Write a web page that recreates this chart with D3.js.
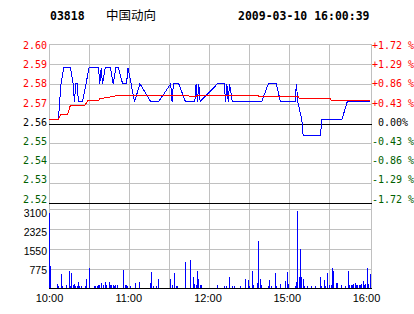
<!DOCTYPE html>
<html><head><meta charset="utf-8">
<script src="https://cdn.jsdelivr.net/npm/d3@7"></script>
<style>
html,body{margin:0;padding:0;background:#fff;}
svg{display:block;}
</style></head>
<body>
<svg id="c" width="414" height="314"></svg>
<script>
// ---------- data ----------
const stockCode = "03818";
const stockName = "中国动向";
const stamp = "2009-03-10 16:00:39";
const prevClose = 2.56;
const priceTicks = [2.60, 2.59, 2.58, 2.57, 2.56, 2.55, 2.54, 2.53, 2.52];
const pctTicks = ["+1.72 %", "+1.29 %", "+0.86 %", "+0.43 %", "0.00%", "-0.43 %", "-0.86 %", "-1.29 %", "-1.72 %"];
const volTicks = [3100, 2325, 1550, 775];
const timeLabels = ["10:00", "11:00", "12:00", "15:00", "16:00"];
const gridTimes = ["10:30", "11:00", "11:30", "12:00", "12:30", "15:00", "15:30"];

const priceTimes = ["10:00","10:07","10:08","10:09","10:11","10:16","10:18","10:19","10:20","10:21","10:22","10:25","10:30","10:37","10:38","10:39","10:40","10:42","10:46","10:48","10:50","10:52","10:55","10:58","10:59","11:04","11:08","11:16","11:22","11:31","11:32","11:33","11:37","11:42","11:49","11:50","11:51","11:52","11:53","12:06","12:11","12:12","12:13","12:14","12:15","12:17","14:39","14:44","14:50","14:53","15:04","15:05","15:06","15:09","15:10","15:23","15:24","15:39","15:43","16:00"];
const prices = [2.562,2.562,2.571,2.580,2.588,2.588,2.580,2.571,2.580,2.580,2.571,2.571,2.588,2.588,2.580,2.588,2.580,2.588,2.588,2.580,2.588,2.588,2.580,2.580,2.588,2.571,2.580,2.571,2.571,2.580,2.571,2.580,2.580,2.571,2.571,2.580,2.571,2.580,2.571,2.580,2.580,2.571,2.580,2.571,2.580,2.571,2.571,2.580,2.580,2.571,2.571,2.580,2.571,2.562,2.554,2.554,2.562,2.562,2.571,2.571];

const avgTimes = ["10:00","10:07","10:09","10:14","10:16","10:27","10:29","10:37","10:38","10:45","10:48","10:53","11:44","11:45","11:50","11:51","14:36","14:37","15:06","15:07","15:30","15:31","16:00"];
const avgPrices = [2.5622,2.5622,2.5646,2.5646,2.5692,2.5692,2.5716,2.5716,2.5725,2.5732,2.5737,2.5742,2.5742,2.5737,2.5737,2.5742,2.5742,2.5737,2.5737,2.5728,2.5728,2.5718,2.5718];

const volTimes = ["10:00","10:01","10:06","10:07","10:09","10:10","10:13","10:15","10:16","10:17","10:18","10:19","10:20","10:21","10:22","10:23","10:24","10:27","10:28","10:30","10:34","10:35","10:36","10:37","10:38","10:39","10:41","10:42","10:43","10:45","10:46","10:47","10:48","10:49","10:50","10:51","10:56","10:57","10:58","10:59","11:01","11:05","11:08","11:16","11:17","11:18","11:20","11:22","11:31","11:32","11:34","11:35","11:36","11:42","11:46","11:48","11:49","11:50","11:51","11:52","11:53","11:54","12:06","12:11","12:13","12:15","12:17","12:19","12:23","12:27","12:29","12:30","14:32","14:33","14:36","14:37","14:38","14:39","14:44","14:45","14:46","14:49","14:50","14:53","14:57","14:58","14:59","15:04","15:05","15:06","15:07","15:08","15:09","15:10","15:11","15:13","15:16","15:19","15:23","15:24","15:26","15:27","15:28","15:30","15:31","15:32","15:33","15:35","15:36","15:39","15:42","15:44","15:45","15:46","15:47","15:48","15:49","15:50","15:51","15:52","15:53","15:54","15:55","15:56","15:57","15:58","15:59","16:00"];
const volumes = [2940,875,170,100,560,90,130,680,100,600,130,170,100,90,250,90,90,90,365,800,90,90,90,130,130,210,130,250,130,250,130,130,130,90,130,130,720,130,130,90,90,200,250,210,640,90,90,365,365,130,600,90,90,1030,1110,440,170,130,680,365,130,130,130,90,90,440,90,90,90,365,325,90,680,130,210,1855,365,130,90,325,90,600,90,170,290,640,170,90,250,3030,450,1545,455,365,90,90,90,90,440,90,325,90,600,130,130,780,690,210,220,130,90,690,130,130,130,170,210,130,130,130,130,170,300,130,170,790,170,560];

// ---------- helpers ----------
function toMin(t) {
  const [h, m] = t.split(":").map(Number);
  const v = h * 60 + m;
  return v <= 750 ? v - 600 : v - 870 + 150;
}
const crisp = v => Math.round(v) + 0.5;

const svg = d3.select("#c");
const L = 49, R = 371, PT = 44, PB = 203, VT = 209, VB = 288;

const x = d3.scaleLinear().domain([0, 240]).range([L, 370]);
const y = d3.scaleLinear().domain([2.52, 2.60]).range([PB, PT]);
const yLab = d3.scaleLinear().domain([2.52, 2.60]).range([202.5, 49]);
const vy = d3.scaleLinear().domain([0, 3100]).range([288.3, 209.3]);
const vLab = d3.scalePoint().domain(volTicks).range([216.7, 274]);
const tLab = d3.scalePoint().domain(timeLabels).range([49.5, 366.5]);
const pctY = d3.scalePoint().domain(pctTicks).range([49, 202.5]);

const GRID = "#c0c0c0";
const RED = "#ff0000", GREEN = "#006000", BLUE = "#0000ff";

// ---------- header ----------
const hdr = svg.append("g").attr("font-family", "'DejaVu Sans Mono', monospace").attr("font-weight", "bold").attr("font-size", 11.5).attr("fill", "#000");
hdr.append("text").attr("x", 50).attr("y", 20).text(stockCode);
hdr.append("text").attr("x", 238).attr("y", 20).text(stamp);
svg.append("text").attr("x", 106).attr("y", 19.5).attr("font-family", "'Noto Sans CJK SC', sans-serif").attr("font-size", 12.5).attr("fill", "#000").text(stockName);

// ---------- grid ----------
const g = svg.append("g").attr("shape-rendering", "crispEdges");
g.selectAll("line.vg").data(gridTimes).enter().append("line")
  .attr("x1", d => crisp(x(toMin(d)) - 0.4)).attr("x2", d => crisp(x(toMin(d)) - 0.4))
  .attr("y1", PT).attr("y2", VB).attr("stroke", GRID);
g.append("line").attr("x1", L + 0.5).attr("x2", L + 0.5).attr("y1", PT).attr("y2", VB + 1).attr("stroke", GRID);
g.append("line").attr("x1", R + 0.5).attr("x2", R + 0.5).attr("y1", PT).attr("y2", VB + 1).attr("stroke", GRID);
g.selectAll("line.ph").data(priceTicks).enter().append("line")
  .attr("x1", L).attr("x2", R + 1)
  .attr("y1", d => crisp(y(d))).attr("y2", d => crisp(y(d)))
  .attr("stroke", d => (Math.abs(d - prevClose) < 1e-9 || Math.abs(d - 2.52) < 1e-9) ? "#000" : GRID);
g.selectAll("line.vh").data(volTicks).enter().append("line")
  .attr("x1", L).attr("x2", R + 1)
  .attr("y1", d => crisp(vy(d))).attr("y2", d => crisp(vy(d)))
  .attr("stroke", GRID);

// ---------- axis labels ----------
const mono = svg.append("g").attr("font-family", "'DejaVu Sans Mono', monospace").attr("font-size", 10);
mono.selectAll("text.pl").data(priceTicks).enter().append("text")
  .attr("x", 47).attr("y", d => yLab(d)).attr("text-anchor", "end")
  .attr("fill", d => d > prevClose + 1e-9 ? RED : (d < prevClose - 1e-9 ? GREEN : "#000"))
  .text(d => d.toFixed(2));
mono.selectAll("text.pr").data(pctTicks).enter().append("text")
  .attr("x", d => /^[0-9]/.test(d) ? 378 : 372).attr("y", d => pctY(d))
  .attr("fill", d => d[0] === "+" ? RED : (d[0] === "-" ? GREEN : "#000"))
  .text(d => d);

const sans = svg.append("g").attr("font-family", "'Liberation Sans', Arial, sans-serif").attr("fill", "#000");
sans.selectAll("text.vl").data(volTicks).enter().append("text")
  .attr("x", 47).attr("y", d => vLab(d)).attr("text-anchor", "end").attr("font-size", 10.5)
  .text(d => d);
sans.selectAll("text.tl").data(timeLabels).enter().append("text")
  .attr("x", d => tLab(d)).attr("y", 301.5).attr("text-anchor", "middle").attr("font-size", 11)
  .text(d => d);

// ---------- volume bars ----------
const bars = volTimes.map((t, i) => ({ m: toMin(t), v: volumes[i] }));
svg.append("g").attr("shape-rendering", "crispEdges").selectAll("rect").data(bars).enter().append("rect")
  .attr("x", d => Math.floor(x(d.m)))
  .attr("width", 1)
  .attr("y", d => Math.round(vy(d.v)))
  .attr("height", d => 288 - Math.round(vy(d.v)))
  .attr("fill", BLUE);
// volume baseline
svg.append("line").attr("shape-rendering", "crispEdges")
  .attr("x1", L).attr("x2", R + 1)
  .attr("y1", Math.floor(vy(0)) + 0.5).attr("y2", Math.floor(vy(0)) + 0.5)
  .attr("stroke", "#000");

// ---------- price & average lines ----------
const pricePts = priceTimes.map((t, i) => [toMin(t), prices[i]]);
const avgPts = avgTimes.map((t, i) => [toMin(t), avgPrices[i]]);
const line = d3.line().x(d => x(d[0])).y(d => y(d[1]));
svg.append("path").datum(pricePts).attr("d", line).attr("fill", "none").attr("stroke", BLUE).attr("stroke-width", 1).attr("shape-rendering", "crispEdges");
svg.append("path").datum(avgPts).attr("d", line).attr("fill", "none").attr("stroke", RED).attr("stroke-width", 1).attr("shape-rendering", "crispEdges");
</script>
</body></html>
